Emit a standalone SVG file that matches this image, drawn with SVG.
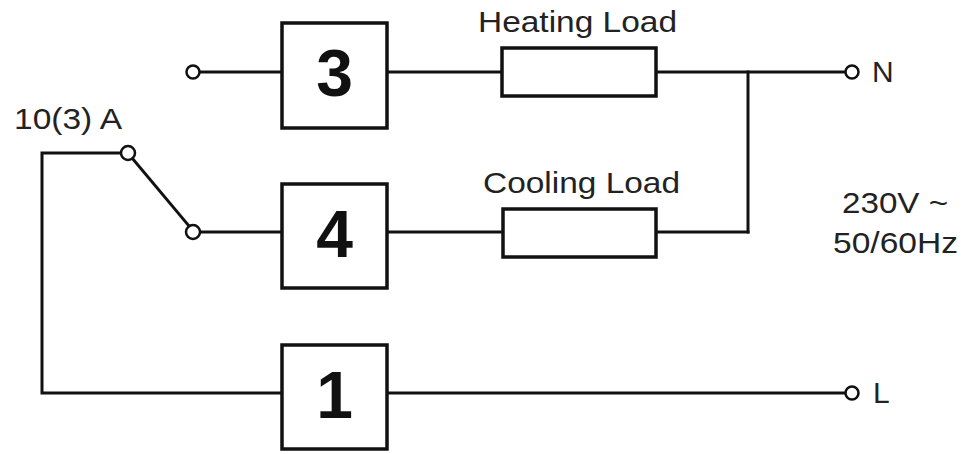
<svg xmlns="http://www.w3.org/2000/svg" width="976" height="454" viewBox="0 0 976 454">
<style>
.w{fill:none;stroke:#111;stroke-width:3;stroke-linecap:square}
.box{fill:#fff;stroke:#111;stroke-width:3.5}
.term{fill:#fff;stroke:#111;stroke-width:2.5}
.num{font-family:"Liberation Sans",Arial,sans-serif;font-weight:bold;font-size:66px;fill:#111;text-anchor:middle}
.lbl{font-family:"Liberation Sans",Arial,sans-serif;font-size:30px;fill:#222}
</style>
<rect width="976" height="454" fill="#fff"/>
<g id="connectors">
<line class="w" x1="200" y1="72" x2="282" y2="72"/>
<line class="w" x1="387" y1="72" x2="502" y2="72"/>
<line class="w" x1="656" y1="72" x2="845" y2="72"/>
<line class="w" x1="748" y1="72" x2="748" y2="232"/>
<line class="w" x1="656" y1="232" x2="748" y2="232"/>
<line class="w" x1="387" y1="232" x2="503" y2="232"/>
<line class="w" x1="200" y1="232" x2="282" y2="232"/>
<line class="w" x1="132" y1="158" x2="189" y2="226"/>
<polyline class="w" points="121,153 42,153 42,393 282,393"/>
<line class="w" x1="387" y1="393" x2="845" y2="393"/>
</g>
<g id="terminal-top"><circle class="term" cx="193" cy="72" r="6.5"/></g>
<g id="switch-top"><circle class="term" cx="128" cy="153" r="7"/></g>
<g id="switch-bottom"><circle class="term" cx="193" cy="232" r="7"/></g>
<g id="terminal-N"><circle class="term" cx="852" cy="72" r="6.5"/><text class="lbl" x="872" y="82" font-size="28">N</text></g>
<g id="terminal-L"><circle class="term" cx="852" cy="393" r="6.5"/><text class="lbl" x="873" y="403" font-size="28">L</text></g>
<g id="box3"><rect class="box" x="282" y="23" width="105" height="105"/><text class="num" x="334.5" y="96">3</text></g>
<g id="box4"><rect class="box" x="282" y="184" width="105" height="104"/><text class="num" x="334.5" y="257">4</text></g>
<g id="box1"><rect class="box" x="282" y="345" width="105" height="104"/><text class="num" x="334.5" y="418">1</text></g>
<g id="heating-load"><rect class="box" x="502" y="48" width="154" height="48" stroke-width="3"/><text class="lbl" x="478" y="32" textLength="199" lengthAdjust="spacingAndGlyphs">Heating Load</text></g>
<g id="cooling-load"><rect class="box" x="503" y="209" width="153" height="48" stroke-width="3"/><text class="lbl" x="483" y="193" textLength="197" lengthAdjust="spacingAndGlyphs">Cooling Load</text></g>
<g id="switch-label"><text class="lbl" x="14" y="129" textLength="108" lengthAdjust="spacingAndGlyphs">10(3) A</text></g>
<g id="supply-label"><text class="lbl" x="842" y="213" textLength="106" lengthAdjust="spacingAndGlyphs">230V ~</text><text class="lbl" x="833" y="253" textLength="125" lengthAdjust="spacingAndGlyphs">50/60Hz</text></g>
</svg>
